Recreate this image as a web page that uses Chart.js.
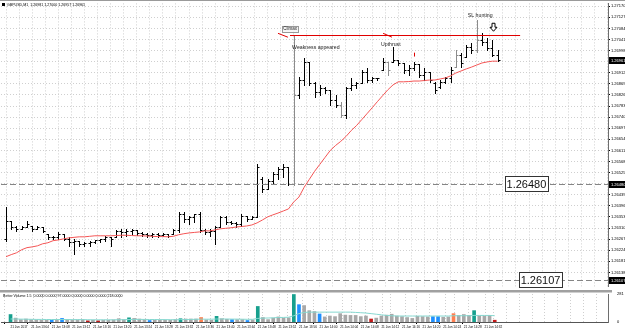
<!DOCTYPE html>
<html>
<head>
<meta charset="utf-8">
<script src="https://cdn.jsdelivr.net/npm/chart.js@4.4.0/dist/chart.umd.min.js"></script>
<style>
body { margin: 0; background: #fff; }
#wrap { position: relative; width: 625px; height: 332px; overflow: hidden; }
canvas { position: absolute; left: 0; }
#Price { top: 0; }
#Volume { top: 290px; }
</style>
</head>
<body>
<div id="wrap">
<canvas id="Price" width="625" height="290"></canvas>
<canvas id="Volume" width="625" height="42"></canvas>
</div>
<script>
// GBPUSD M1 bars, one entry per minute
const open = [
	1.26268, 1.26338, 1.26314, 1.26307, 1.26314, 1.26318, 1.26307, 1.26314, 1.26288, 1.26276,
	1.26276, 1.26288, 1.26268, 1.26257, 1.26261, 1.26249, 1.26253, 1.26257, 1.26264, 1.26268,
	1.26276, 1.26276, 1.26299, 1.26295, 1.26299, 1.26303, 1.26291, 1.26288, 1.26284, 1.26288,
	1.26284, 1.26288, 1.26288, 1.26303, 1.26365, 1.26345, 1.26353, 1.26365, 1.26303, 1.26295,
	1.26299, 1.26314, 1.26353, 1.26334, 1.26330, 1.26326, 1.26357, 1.26345, 1.26353, 1.26499,
	1.26461, 1.26492, 1.26519, 1.26538, 1.26545, 1.26480, 1.26827, 1.26884, 1.26954, 1.26873,
	1.26838, 1.26853, 1.26846, 1.26807, 1.26788, 1.26750, 1.26853, 1.26865, 1.26873, 1.26915,
	1.26884, 1.26892, 1.26923, 1.26954, 1.26954, 1.26961, 1.26950, 1.26923, 1.26930, 1.26946,
	1.26904, 1.26915, 1.26873, 1.26857, 1.26877, 1.26892, 1.26934, 1.26981, 1.26973, 1.27011,
	1.27000, 1.27038, 1.27031, 1.27007, 1.26981
];
const high = [
	1.26391, 1.26338, 1.26318, 1.26318, 1.26338, 1.26318, 1.26318, 1.26314, 1.26288, 1.26280,
	1.26295, 1.26288, 1.26276, 1.26268, 1.26261, 1.26257, 1.26261, 1.26264, 1.26268, 1.26280,
	1.26276, 1.26303, 1.26307, 1.26307, 1.26307, 1.26303, 1.26295, 1.26291, 1.26291, 1.26291,
	1.26291, 1.26288, 1.26307, 1.26372, 1.26372, 1.26357, 1.26365, 1.26372, 1.26307, 1.26307,
	1.26318, 1.26357, 1.26357, 1.26338, 1.26334, 1.26365, 1.26357, 1.26357, 1.26557, 1.26507,
	1.26499, 1.26526, 1.26545, 1.26557, 1.26545, 1.27057, 1.26896, 1.26969, 1.26954, 1.26877,
	1.26865, 1.26857, 1.26846, 1.26827, 1.26800, 1.26857, 1.26892, 1.26877, 1.26923, 1.26930,
	1.26896, 1.26892, 1.26969, 1.26954, 1.27011, 1.26961, 1.26950, 1.26942, 1.26954, 1.26946,
	1.26930, 1.26915, 1.26877, 1.26884, 1.26896, 1.26934, 1.27000, 1.26988, 1.27019, 1.27027,
	1.27115, 1.27065, 1.27046, 1.27038, 1.27000
];
const low = [
	1.26261, 1.26307, 1.26299, 1.26307, 1.26314, 1.26299, 1.26307, 1.26295, 1.26268, 1.26268,
	1.26268, 1.26264, 1.26241, 1.26211, 1.26241, 1.26241, 1.26241, 1.26253, 1.26257, 1.26261,
	1.26241, 1.26276, 1.26276, 1.26280, 1.26288, 1.26284, 1.26280, 1.26276, 1.26276, 1.26276,
	1.26280, 1.26276, 1.26288, 1.26295, 1.26334, 1.26326, 1.26334, 1.26295, 1.26288, 1.26280,
	1.26249, 1.26314, 1.26326, 1.26326, 1.26314, 1.26318, 1.26338, 1.26345, 1.26353, 1.26449,
	1.26461, 1.26480, 1.26499, 1.26507, 1.26476, 1.26476, 1.26815, 1.26865, 1.26865, 1.26819,
	1.26827, 1.26834, 1.26788, 1.26780, 1.26742, 1.26738, 1.26846, 1.26853, 1.26873, 1.26877,
	1.26877, 1.26884, 1.26923, 1.26904, 1.26954, 1.26942, 1.26911, 1.26904, 1.26923, 1.26896,
	1.26884, 1.26877, 1.26834, 1.26853, 1.26873, 1.26877, 1.26934, 1.26934, 1.26973, 1.26988,
	1.26992, 1.27019, 1.27000, 1.26977, 1.26957
];
const close = [
	1.26338, 1.26314, 1.26307, 1.26314, 1.26326, 1.26307, 1.26314, 1.26299, 1.26276, 1.26276,
	1.26288, 1.26268, 1.26257, 1.26261, 1.26249, 1.26253, 1.26257, 1.26264, 1.26268, 1.26276,
	1.26268, 1.26299, 1.26295, 1.26299, 1.26303, 1.26291, 1.26288, 1.26284, 1.26288, 1.26284,
	1.26288, 1.26280, 1.26303, 1.26365, 1.26345, 1.26353, 1.26365, 1.26303, 1.26295, 1.26299,
	1.26314, 1.26353, 1.26334, 1.26330, 1.26326, 1.26357, 1.26345, 1.26353, 1.26545, 1.26461,
	1.26492, 1.26519, 1.26538, 1.26545, 1.26480, 1.26827, 1.26884, 1.26954, 1.26873, 1.26838,
	1.26853, 1.26846, 1.26807, 1.26788, 1.26750, 1.26853, 1.26865, 1.26873, 1.26915, 1.26884,
	1.26892, 1.26892, 1.26954, 1.26923, 1.26961, 1.26950, 1.26923, 1.26930, 1.26946, 1.26904,
	1.26915, 1.26884, 1.26846, 1.26877, 1.26892, 1.26923, 1.26981, 1.26950, 1.27011, 1.27000,
	1.27038, 1.27031, 1.27007, 1.26981, 1.26961
];
// bars drawn in grey
const greyBars = [55, 64, 73, 86, 90];

// moving average (red line)
const ma = [
	1.26199, 1.26207, 1.26214, 1.26226, 1.26234, 1.26237, 1.26241, 1.26249, 1.26253, 1.26261,
	1.26264, 1.26268, 1.26272, 1.26274, 1.26276, 1.26276, 1.26278, 1.26280, 1.26280, 1.26280,
	1.26280, 1.26281, 1.26282, 1.26282, 1.26281, 1.26280, 1.26280, 1.26279, 1.26278, 1.26277,
	1.26277, 1.26276, 1.26278, 1.26284, 1.26288, 1.26291, 1.26293, 1.26295, 1.26299, 1.26299,
	1.26303, 1.26307, 1.26309, 1.26311, 1.26314, 1.26316, 1.26318, 1.26322, 1.26330, 1.26341,
	1.26353, 1.26361, 1.26368, 1.26376, 1.26384, 1.26411, 1.26430, 1.26468, 1.26499, 1.26530,
	1.26557, 1.26584, 1.26611, 1.26630, 1.26646, 1.26665, 1.26688, 1.26707, 1.26730, 1.26753,
	1.26776, 1.26800, 1.26823, 1.26846, 1.26865, 1.26877, 1.26877, 1.26878, 1.26880, 1.26880,
	1.26882, 1.26884, 1.26884, 1.26888, 1.26892, 1.26900, 1.26911, 1.26919, 1.26927, 1.26934,
	1.26942, 1.26950, 1.26954, 1.26957, 1.26957
];

// Better Volume sub window
const volume = [
	75, 39, 24, 30, 24, 21, 18, 18, 18, 24,
	36, 24, 21, 21, 24, 12, 18, 12, 18, 18,
	21, 33, 24, 42, 36, 30, 24, 15, 18, 18,
	18, 18, 24, 33, 30, 30, 30, 45, 21, 18,
	57, 33, 27, 24, 24, 24, 15, 21, 156, 45,
	24, 39, 51, 39, 42, 276, 174, 165, 114, 105,
	81, 51, 60, 54, 84, 69, 66, 66, 54, 60,
	30, 39, 60, 69, 78, 60, 54, 45, 36, 57,
	54, 51, 54, 54, 48, 51, 84, 66, 75, 66,
	114, 60, 60, 66, 18
];
// t = climax/high, b = low volume, g = neutral, r = churn, o = climax down
const volType = [
	't','g','g','g','g','g','g','g','b','g',
	'b','g','g','g','g','r','g','r','g','g',
	'g','g','g','t','g','g','g','b','g','g',
	'g','g','g','t','g','g','g','o','g','g',
	't','g','g','b','g','g','b','g','t','g',
	'g','g','g','g','g','t','b','g','g','g',
	'b','g','g','g','g','g','g','g','g','g',
	'r','g','g','g','g','g','g','g','g','g',
	'g','g','b','b','g','g','o','g','g','g',
	't','g','g','g','r'
];
const volAvg = [
	30, 30, 29, 28, 27, 26, 26, 25, 25, 25,
	25, 25, 24, 24, 24, 23, 22, 22, 22, 22,
	22, 23, 23, 25, 26, 26, 26, 25, 25, 24,
	24, 23, 23, 24, 25, 26, 27, 29, 28, 28,
	30, 30, 30, 29, 29, 28, 27, 27, 36, 39,
	40, 42, 45, 46, 48, 63, 84, 96, 99, 99,
	99, 99, 99, 99, 99, 99, 99, 96, 93, 90,
	84, 78, 72, 66, 63, 60, 60, 60, 60, 60,
	60, 60, 60, 60, 60, 60, 63, 63, 63, 63,
	66, 66, 66, 66, 63
];
const volMax = 281;

// axis labels
const timeLabelBars = [0, 4, 8, 12, 16, 20, 24, 28, 32, 36, 40, 44, 48, 52, 56, 60, 64, 68, 72, 76, 80, 84, 88, 92];
const timeLabels = [
	'21 Jun 2017', '21 Jun 13:04', '21 Jun 13:08', '21 Jun 13:12', '21 Jun 13:16', '21 Jun 13:20',
	'21 Jun 13:24', '21 Jun 13:28', '21 Jun 13:32', '21 Jun 13:36', '21 Jun 13:40', '21 Jun 13:44',
	'21 Jun 13:48', '21 Jun 13:52', '21 Jun 13:56', '21 Jun 14:00', '21 Jun 14:04', '21 Jun 14:08',
	'21 Jun 14:12', '21 Jun 14:16', '21 Jun 14:20', '21 Jun 14:24', '21 Jun 14:28', '21 Jun 14:32'
];
const priceTicks = [
	1.27170, 1.27127, 1.27084, 1.27041, 1.26998, 1.26955, 1.26912, 1.26869, 1.26826, 1.26783,
	1.26740, 1.26697, 1.26654, 1.26611, 1.26568, 1.26525, 1.26482, 1.26439, 1.26396, 1.26353,
	1.26310, 1.26267, 1.26224, 1.26181, 1.26138
];

// chart objects
const levels = [1.26480, 1.26107];
const levelNotes = [
	{text: '1.26480', bar: 95.6, price: 1.26480},
	{text: '1.26107', bar: 98.3, price: 1.26107}
];
const notes = [
	{text: 'Climax', bar: 53.0, price: 1.27083, boxed: true},
	{text: 'Weakness appeared', bar: 54.7, price: 1.27011},
	{text: 'Upthrust', bar: 71.7, price: 1.27023},
	{text: 'SL hunting', bar: 88.3, price: 1.27135}
];
const resistance = {from: 54.3, to: 98.3, price: 1.27057};
const marks = [
	{from: [52.0, 1.27065], to: [53.9, 1.27050]},
	{from: [72.1, 1.27065], to: [73.8, 1.27050]}
];
const warnMark = {bar: 78.0, from: 1.26990, to: 1.26975};
const arrow = {bar: 93.1, top: 1.27104, bottom: 1.27073};

const FONT = '"Liberation Sans", Arial, sans-serif';
const X_MIN = -0.96, X_MAX = 115.1;
const GRID = '#cfcfcf';
const GRID_STEP = 2.5;
const volColors = {t: '#17a08e', b: '#1e90ff', g: '#a8a8a8', r: '#c41818', o: '#ff7f50'};

// vertical grid every GRID_STEP bars, plus the label positions (label ticks get no line)
const gridBars = [];
for (let v = 0; v <= X_MAX; v += GRID_STEP) gridBars.push(v);
const xTicks = Array.from(new Set(gridBars.concat(timeLabelBars))).sort((a, b) => a - b);
const gridColor = ctx => (ctx.tick && gridBars.includes(ctx.tick.value)) ? GRID : 'rgba(0,0,0,0)';

const ohlcPlugin = {
	id: 'ohlc',
	beforeDatasetsDraw(chart) {
		const {ctx, chartArea, scales: {x, y}} = chart;
		ctx.save();
		ctx.beginPath();
		ctx.rect(chartArea.left, chartArea.top, chartArea.width, chartArea.height);
		ctx.clip();
		ctx.lineWidth = 1;
		for (let i = 0; i < close.length; i++) {
			const px = Math.round(x.getPixelForValue(i)) + 0.5;
			const yh = Math.round(y.getPixelForValue(high[i]));
			const yl = Math.round(y.getPixelForValue(low[i])) + 1;
			const yo = Math.round(y.getPixelForValue(open[i])) + 0.5;
			const yc = Math.round(y.getPixelForValue(close[i])) + 0.5;
			ctx.strokeStyle = greyBars.includes(i) ? '#8c8c8c' : '#000';
			ctx.beginPath();
			ctx.moveTo(px, yh);
			ctx.lineTo(px, yl);
			ctx.moveTo(px - 2, yo);
			ctx.lineTo(px, yo);
			ctx.moveTo(px, yc);
			ctx.lineTo(px + 2, yc);
			ctx.stroke();
		}
		ctx.restore();
	}
};

function axisBox(ctx, left, py, text) {
	ctx.fillStyle = '#000';
	ctx.fillRect(left, py - 3.5, 625 - left, 7);
	ctx.fillStyle = '#fff';
	ctx.font = '4px ' + FONT;
	ctx.textBaseline = 'middle';
	ctx.textAlign = 'left';
	ctx.fillText(text, left + 2, py);
}

const notesPlugin = {
	id: 'notes',
	afterDatasetsDraw(chart) {
		const {ctx, chartArea: a, scales: {x, y}} = chart;
		const X = v => x.getPixelForValue(v);
		const Y = v => y.getPixelForValue(v);
		ctx.save();

		// horizontal levels
		ctx.lineWidth = 1;
		ctx.strokeStyle = '#858585';
		ctx.setLineDash([6, 3]);
		levels.forEach(p => {
			const py = Math.round(Y(p)) + 0.5;
			ctx.beginPath();
			ctx.moveTo(a.left, py);
			ctx.lineTo(a.right, py);
			ctx.stroke();
		});
		ctx.setLineDash([]);

		// line from the climax high
		ctx.strokeStyle = '#e00000';
		const ry = Math.round(Y(resistance.price)) + 0.5;
		ctx.beginPath();
		ctx.moveTo(X(resistance.from), ry);
		ctx.lineTo(X(resistance.to), ry);
		ctx.stroke();

		marks.forEach(m => {
			ctx.beginPath();
			ctx.moveTo(X(m.from[0]), Y(m.from[1]));
			ctx.lineTo(X(m.to[0]), Y(m.to[1]));
			ctx.stroke();
		});
		const wx = Math.round(X(warnMark.bar)) + 0.5;
		ctx.beginPath();
		ctx.moveTo(wx, Y(warnMark.from));
		ctx.lineTo(wx, Y(warnMark.to));
		ctx.stroke();

		// text notes
		ctx.textBaseline = 'middle';
		ctx.textAlign = 'left';
		notes.forEach(n => {
			ctx.font = (n.boxed ? '4.5px ' : '5.2px ') + FONT;
			const tx = X(n.bar), ty = Y(n.price);
			if (n.boxed) {
				const w = ctx.measureText(n.text).width;
				ctx.fillStyle = '#f4f4f4';
				ctx.fillRect(tx - 1, ty - 3, w + 2, 6);
				ctx.strokeStyle = '#999';
				ctx.strokeRect(Math.round(tx - 1) + 0.5, Math.round(ty - 3) + 0.5, Math.round(w + 2), 6);
			}
			ctx.fillStyle = '#222';
			ctx.fillText(n.text, tx, ty);
		});

		// hollow down arrow
		const cx = Math.round(X(arrow.bar)) + 0.5;
		const top = Y(arrow.top), bot = Y(arrow.bottom), mid = top + (bot - top) * 0.5;
		ctx.beginPath();
		ctx.moveTo(cx - 1.5, top);
		ctx.lineTo(cx + 1.5, top);
		ctx.lineTo(cx + 1.5, mid);
		ctx.lineTo(cx + 3.5, mid);
		ctx.lineTo(cx, bot);
		ctx.lineTo(cx - 3.5, mid);
		ctx.lineTo(cx - 1.5, mid);
		ctx.closePath();
		ctx.fillStyle = '#fff';
		ctx.fill();
		ctx.strokeStyle = '#000';
		ctx.stroke();

		// big level labels
		ctx.font = '11px ' + FONT;
		levelNotes.forEach(n => {
			const tx = X(n.bar), ty = Math.round(Y(n.price));
			const w = ctx.measureText(n.text).width;
			ctx.fillStyle = '#fff';
			ctx.fillRect(tx - 1, ty - 7, w + 3, 14);
			ctx.strokeStyle = '#333';
			ctx.strokeRect(Math.round(tx - 1) + 0.5, ty - 7.5, Math.round(w + 3), 15);
			ctx.fillStyle = '#111';
			ctx.fillText(n.text, tx + 0.5, ty + 0.5);
		});
		ctx.restore();
	},
	afterDraw(chart) {
		const {ctx, chartArea: a, scales: {y}} = chart;
		ctx.save();
		levels.forEach(p => axisBox(ctx, a.right + 1, Math.round(y.getPixelForValue(p)) + 0.5, p.toFixed(5)));
		const last = close[close.length - 1];
		axisBox(ctx, a.right + 1, Math.round(y.getPixelForValue(last)) + 0.5, last.toFixed(5));

		// window frame and header
		ctx.fillStyle = '#9a9a9a';
		ctx.fillRect(0, 0, 625, 1);
		ctx.fillStyle = '#000';
		ctx.fillRect(2, 3, 3, 3);
		ctx.font = '3.6px ' + FONT;
		ctx.textBaseline = 'middle';
		ctx.textAlign = 'left';
		const n = close.length - 1;
		ctx.fillText('GBPUSD,M1  ' + [open[n], high[n], low[n], close[n]].map(v => v.toFixed(5)).join(' '), 7, 4.8);
		ctx.restore();
	}
};

const barPoints = arr => arr.map((v, i) => ({x: i, y: v}));

window.price = new Chart(document.getElementById('Price').getContext('2d'), {
	type: 'line',
	data: {
		datasets: [{
			label: 'MA',
			data: barPoints(ma),
			borderColor: '#f45555',
			borderWidth: 1,
			pointRadius: 0,
			tension: 0
		}]
	},
	options: {
		responsive: false,
		animation: false,
		events: [],
		layout: {padding: {left: 1, top: 3, right: 0, bottom: 2}},
		plugins: {legend: {display: false}, tooltip: {enabled: false}},
		scales: {
			x: {
				type: 'linear',
				min: X_MIN,
				max: X_MAX,
				afterBuildTicks: axis => { axis.ticks = xTicks.map(v => ({value: v})); },
				afterFit: axis => { axis.height = 0; },
				ticks: {display: false},
				grid: {color: gridColor, drawTicks: false},
				border: {display: false, dash: [1, 2]}
			},
			y: {
				position: 'right',
				min: 1.26083,
				max: 1.27181,
				afterBuildTicks: axis => { axis.ticks = priceTicks.map(v => ({value: v})); },
				afterFit: axis => { axis.width = 17; },
				ticks: {
					font: {family: FONT, size: 4},
					color: '#000',
					padding: 1,
					callback: v => v.toFixed(5)
				},
				grid: {color: GRID, tickColor: '#000', tickLength: 2},
				border: {display: true, color: '#6e6e6e', dash: [1, 2]}
			}
		}
	},
	plugins: [ohlcPlugin, notesPlugin]
});

const volumePanel = {
	id: 'volumePanel',
	afterDraw(chart) {
		const {ctx} = chart;
		ctx.save();
		ctx.fillStyle = '#a0a0a0';
		ctx.fillRect(0, 0, 612, 2.5);
		ctx.fillStyle = '#000';
		ctx.font = '3.6px ' + FONT;
		ctx.textBaseline = 'middle';
		ctx.textAlign = 'left';
		ctx.fillText('Better Volume 1.5  0.0000 0.0000 97.0000 0.0000 0.0000 0.0000 218.0000', 3, 6);
		ctx.restore();
	}
};

window.volume = new Chart(document.getElementById('Volume').getContext('2d'), {
	type: 'bar',
	data: {
		datasets: [{
			type: 'line',
			label: 'Average',
			data: barPoints(volAvg),
			borderColor: '#86d8d0',
			borderWidth: 1,
			pointRadius: 0,
			order: 0
		}, {
			label: 'Volume',
			data: barPoints(volume),
			backgroundColor: volType.map(t => volColors[t]),
			barThickness: 3,
			order: 1
		}]
	},
	options: {
		responsive: false,
		animation: false,
		events: [],
		layout: {padding: {left: 1, top: 4, right: 0, bottom: 0}},
		plugins: {legend: {display: false}, tooltip: {enabled: false}},
		scales: {
			x: {
				type: 'linear',
				min: X_MIN,
				max: X_MAX,
				afterBuildTicks: axis => { axis.ticks = xTicks.map(v => ({value: v})); },
				afterFit: axis => { axis.height = 10; },
				ticks: {
					font: {family: FONT, size: 3.1},
					color: '#000',
					align: 'start',
					padding: 1,
					maxRotation: 0,
					autoSkip: false,
					callback: v => {
						const k = timeLabelBars.indexOf(v);
						return k < 0 ? '' : timeLabels[k];
					}
				},
				grid: {
					color: gridColor,
					tickColor: c => (c.tick && timeLabelBars.includes(c.tick.value)) ? '#000' : 'rgba(0,0,0,0)',
					tickLength: 2
				},
				border: {display: true, color: '#555', dash: [1, 2]}
			},
			y: {
				position: 'right',
				min: 0,
				max: volMax,
				afterBuildTicks: axis => { axis.ticks = [{value: volMax}, {value: 0}]; },
				afterFit: axis => { axis.width = 17; },
				ticks: {font: {family: FONT, size: 4}, color: '#000', padding: 1},
				grid: {display: false},
				border: {display: true, color: '#6e6e6e'}
			}
		}
	},
	plugins: [volumePanel]
});
</script>
</body>
</html>
